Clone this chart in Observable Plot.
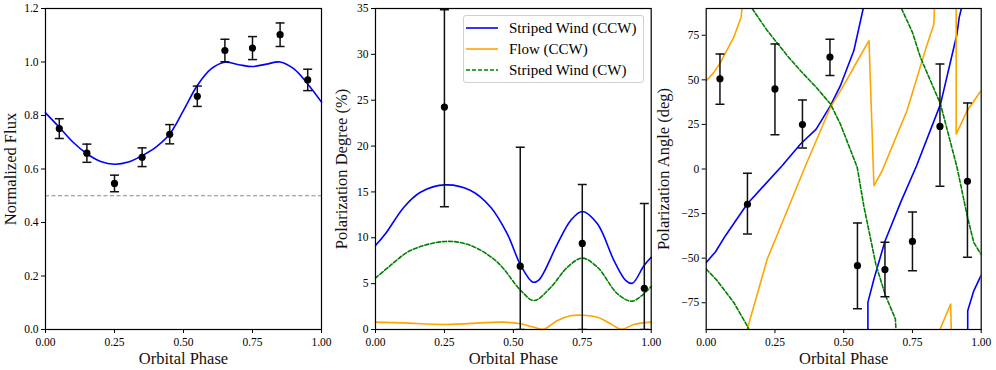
<!DOCTYPE html>
<html><head><meta charset="utf-8">
<script src="https://cdn.jsdelivr.net/npm/d3@7"></script>
<script src="https://cdn.jsdelivr.net/npm/@observablehq/plot@0.6"></script>
<style>
body{margin:0;background:#fff;font-family:"Liberation Serif","DejaVu Serif",serif;}
#wrap{position:relative;width:996px;height:370px;overflow:hidden;}
.panel{position:absolute;top:0;}
.panel svg{overflow:visible;background:transparent;font-family:"Liberation Serif","DejaVu Serif",serif !important;}
.panel svg text{font-family:"Liberation Serif","DejaVu Serif",serif !important;}
#legend{position:absolute;left:463px;top:15px;width:179px;height:66px;border:1px solid #d0d0d0;border-radius:3px;background:rgba(255,255,255,0.85);font-size:15px;color:#000;font-family:"Liberation Serif","DejaVu Serif",serif;}
#legend .row{position:absolute;left:1px;height:20px;display:flex;align-items:center;white-space:nowrap;}
#legend svg{margin-right:10px;}
</style></head><body><div id="wrap"><div id="p1" class="panel" style="left:0"></div><div id="p2" class="panel" style="left:330px"></div><div id="p3" class="panel" style="left:660px"></div><div id="legend"></div></div>
<script>
// ---------- shared ----------
const phaseTicks = [0, 0.25, 0.5, 0.75, 1];
const fluxTicks = [0, 0.2, 0.4, 0.6, 0.8, 1.0, 1.2];
const pdTicks = [0, 5, 10, 15, 20, 25, 30, 35];
const paTicks = [-75, -50, -25, 0, 25, 50, 75];
const seriesNames = ["Striped Wind (CCW)", "Flow (CCW)", "Striped Wind (CW)"];
const seriesColors = ["#0000ff", "#ffa500", "#008000"];

// ---------- panel 1: flux ----------
const fluxPhase = [0.05, 0.15, 0.25, 0.35, 0.45, 0.55, 0.65, 0.75, 0.85, 0.95];
const fluxValue = [0.751, 0.659, 0.546, 0.644, 0.730, 0.872, 1.043, 1.052, 1.102, 0.933];
const fluxErr   = [0.037, 0.034, 0.031, 0.035, 0.036, 0.038, 0.042, 0.043, 0.044, 0.040];
const fluxModelPhase = [0, 0.05, 0.1, 0.15, 0.2, 0.25, 0.3, 0.35, 0.4, 0.45, 0.5, 0.55, 0.6, 0.65, 0.7, 0.75, 0.8, 0.85, 0.9, 0.95, 1.0];
const fluxModel = [0.81, 0.756, 0.70, 0.657, 0.628, 0.618, 0.626, 0.65, 0.682, 0.731, 0.819, 0.912, 0.974, 0.999, 0.99, 0.983, 0.992, 1.0, 0.974, 0.918, 0.85];
const fluxRefLevel = [0.5];

// ---------- panel 2: polarization degree ----------
const pdPhase = [0.25, 0.525, 0.75, 0.975];
const pdValue = [24.25, 6.9, 9.38, 4.5];
const pdUpper = [34.86, 19.88, 15.81, 13.74];
const pdLower = [13.38, 0, 0, 0];
const pdWindCCWPhase = [0, 0.036, 0.103, 0.163, 0.254, 0.345, 0.418, 0.478, 0.527, 0.571, 0.593, 0.66, 0.708, 0.75, 0.805, 0.865, 0.908, 0.932, 0.974, 1.0];
const pdWindCCW      = [9.16, 10.43, 13.34, 14.97, 15.77, 15.16, 13.34, 10.43, 6.98, 5.16, 5.42, 9.34, 11.89, 12.87, 11.52, 7.52, 5.34, 5.05, 6.98, 7.88];
const pdFlowCCWPhase = [0, 0.1, 0.254, 0.4, 0.466, 0.52, 0.575, 0.609, 0.66, 0.708, 0.75, 0.805, 0.853, 0.893, 0.937, 1.0];
const pdFlowCCW      = [0.8, 0.72, 0.55, 0.75, 0.8, 0.65, 0.25, 0.02, 0.98, 1.49, 1.56, 1.34, 0.62, 0.02, 0.55, 0.8];
const pdWindCWPhase  = [0, 0.054, 0.127, 0.254, 0.345, 0.442, 0.527, 0.575, 0.636, 0.696, 0.75, 0.805, 0.878, 0.932, 1.0];
const pdWindCW       = [5.6, 6.98, 8.61, 9.6, 9.16, 7.34, 4.25, 3.16, 4.61, 6.79, 7.78, 6.79, 3.89, 3.09, 4.69];

// ---------- panel 3: polarization angle ----------
const paPhase = [0.05, 0.15, 0.25, 0.35, 0.45, 0.55, 0.65, 0.75, 0.85, 0.95];
const paValue = [50.6, -19.8, 44.9, 24.9, 62.8, -54.2, -56.4, -40.6, 23.9, -6.9];
const paUpper = [64.5, -2.4, 70.1, 38.7, 72.7, -30.3, -41.1, -24.1, 58.9, 37.0];
const paLower = [36.3, -36.4, 19.25, 11.8, 52.5, -78.3, -71.6, -57.0, -9.7, -49.5];
// model curves: segments of [phase, angle] (angle wraps at +-90)
const paWindCCW = [
  [[0,-52.4],[0.034,-46.4],[0.07,-37.4],[0.149,-19.6],[0.276,1.85],[0.343,14],[0.4,22.4],[0.452,35.5],[0.488,46.7],[0.537,66.4],[0.571,90]],
  [[0.588,-90],[0.588,-74.8],[0.61,-61.7],[0.65,-40.5],[0.707,-18.7],[0.765,1.85],[0.852,36.4],[0.912,75.7],[0.92,85],[0.928,90]],
  [[0.951,-90],[0.951,-79.5],[0.973,-68.3],[1.0,-59.5]]
];
const paFlowCCW = [
  [[0,49.5],[0.028,54.2],[0.052,59.8],[0.1,73.8],[0.127,85],[0.13,90]],
  [[0.149,-90],[0.222,-50.5],[0.282,-28],[0.361,1.85],[0.452,34.6],[0.503,47.7],[0.55,60.7],[0.592,72],[0.61,-9.4],[0.64,-0.9],[0.73,32.7],[0.8,68.2],[0.828,81.3],[0.83,90]],
  [[0.909,90],[0.909,19.6],[0.949,32.7],[1.0,44]],
  [[0.85,-90],[0.889,-75.7],[0.891,-90]]
];
const paWindCW = [
  [[0,-56.1],[0.04,-62.6],[0.1,-74.8],[0.149,-87.9],[0.155,-90]],
  [[0.167,90],[0.222,77.6],[0.3,62.6],[0.343,55.1],[0.4,45.8],[0.452,36.4],[0.488,25.2],[0.549,1],[0.573,-20.6],[0.617,-53.5],[0.652,-71],[0.688,-84.1],[0.69,-90]],
  [[0.71,90],[0.75,76.6],[0.779,62.6],[0.852,36.4],[0.912,1],[0.949,-26.2],[0.973,-41.2],[1.0,-48]]
];

// ---------- helpers ----------
const FONT = "'Liberation Serif', 'DejaVu Serif', serif";
const capSymbol = { draw(ctx, size) { const w = Math.sqrt(size / Math.PI); ctx.moveTo(-w, 0); ctx.lineTo(w, 0); } };
const zip = (xs, ys) => xs.map((x, i) => ({x, y: ys[i]}));
const segRows = segs => segs.flatMap((s, i) => s.map(([x, y]) => ({x, y, z: i})));
const pts = (xs, ys, lo, hi) => xs.map((x, i) => ({x, y: ys[i], lo: lo[i], hi: hi[i]}));

function errMarks(data) {
  return [
    Plot.ruleX(data, {x: "x", y1: "lo", y2: "hi", stroke: "#111", strokeWidth: 1.5, clip: true}),
    Plot.dot(data, {x: "x", y: "hi", symbol: capSymbol, r: 4.5, stroke: "#111", strokeWidth: 1.5, fill: "none", clip: true}),
    Plot.dot(data, {x: "x", y: "lo", symbol: capSymbol, r: 4.5, stroke: "#111", strokeWidth: 1.5, fill: "none", clip: true}),
    Plot.dot(data, {x: "x", y: "y", r: 3.6, fill: "black", stroke: "none"})
  ];
}
function labels(xLabel, yLabel, ydx) {
  return [
    Plot.text([xLabel], {text: d => d, frameAnchor: "bottom", dy: 29.5, lineAnchor: "middle", fontSize: 16.5, fill: "#111"}),
    Plot.text([yLabel], {text: d => d, frameAnchor: "left", dx: ydx, rotate: -90, textAnchor: "middle", lineAnchor: "middle", fontSize: 16.5, fill: "#111"})
  ];
}
function base(width, ml, mr, y, marks) {
  return Plot.plot({
    width, height: 370, marginLeft: ml, marginRight: mr, marginTop: 8, marginBottom: 41,
    style: {fontFamily: FONT, fontSize: "11.5px", background: "transparent", overflow: "visible", color: "black"},
    x: {domain: [0, 1], ticks: phaseTicks, tickFormat: d3.format(".2f"), tickSize: 4, tickPadding: 4.5, label: null},
    y: Object.assign({tickSize: 4, tickPadding: 3, label: null}, y),
    marks: [...marks, Plot.frame({stroke: "black", strokeWidth: 1.2})]
  });
}

// ---------- panel 1 ----------
document.getElementById("p1").append(base(330, 45, 9,
  {domain: [0, 1.2], ticks: fluxTicks, tickFormat: d3.format(".1f")},
  [
    Plot.ruleY(fluxRefLevel, {stroke: "#888", strokeWidth: 1.1, strokeDasharray: "4,2.5"}),
    Plot.line(zip(fluxModelPhase, fluxModel), {x: "x", y: "y", stroke: seriesColors[0], strokeWidth: 1.6, curve: "catmull-rom"}),
    ...errMarks(pts(fluxPhase, fluxValue, fluxValue.map((v, i) => v - fluxErr[i]), fluxValue.map((v, i) => v + fluxErr[i]))),
    ...labels("Orbital Phase", "Normalized Flux", -35)
  ]));

// ---------- panel 2 ----------
document.getElementById("p2").append(base(330, 45, 9.3,
  {domain: [0, 35], ticks: pdTicks, tickFormat: d3.format("d")},
  [
    Plot.line(zip(pdWindCCWPhase, pdWindCCW), {x: "x", y: "y", stroke: seriesColors[0], strokeWidth: 1.6, curve: "catmull-rom"}),
    Plot.line(zip(pdFlowCCWPhase, pdFlowCCW), {x: "x", y: "y", stroke: seriesColors[1], strokeWidth: 1.6, curve: "catmull-rom"}),
    Plot.line(zip(pdWindCWPhase, pdWindCW), {x: "x", y: "y", stroke: seriesColors[2], strokeWidth: 1.6, strokeDasharray: "4,2", curve: "catmull-rom"}),
    ...errMarks(pts(pdPhase, pdValue, pdLower, pdUpper)),
    ...labels("Orbital Phase", "Polarization Degree (%)", -34)
  ]));

// ---------- panel 3 ----------
document.getElementById("p3").append(base(336, 45.7, 15.3,
  {domain: [-90, 90], ticks: paTicks, tickFormat: d3.format("d")},
  [
    Plot.line(segRows(paWindCCW), {x: "x", y: "y", z: "z", stroke: seriesColors[0], strokeWidth: 1.6, curve: "linear", clip: true}),
    Plot.line(segRows(paFlowCCW), {x: "x", y: "y", z: "z", stroke: seriesColors[1], strokeWidth: 1.6, curve: "linear", clip: true}),
    Plot.line(segRows(paWindCW), {x: "x", y: "y", z: "z", stroke: seriesColors[2], strokeWidth: 1.6, strokeDasharray: "4,2", curve: "linear", clip: true}),
    ...errMarks(pts(paPhase, paValue, paLower, paUpper)),
    ...labels("Orbital Phase", "Polarization Angle (deg)", -42.5)
  ]));

// ---------- legend ----------
const legend = document.getElementById("legend");
seriesNames.forEach((name, i) => {
  const row = document.createElement("div");
  row.className = "row";
  row.style.top = (2 + i * 21) + "px";
  const dash = i === 2 ? ' stroke-dasharray="4,2"' : "";
  row.innerHTML = `<svg width="34" height="10"><line x1="1" x2="33" y1="5" y2="5" stroke="${seriesColors[i]}" stroke-width="1.6"${dash}/></svg><span>${name}</span>`;
  legend.append(row);
});
</script></body></html>
